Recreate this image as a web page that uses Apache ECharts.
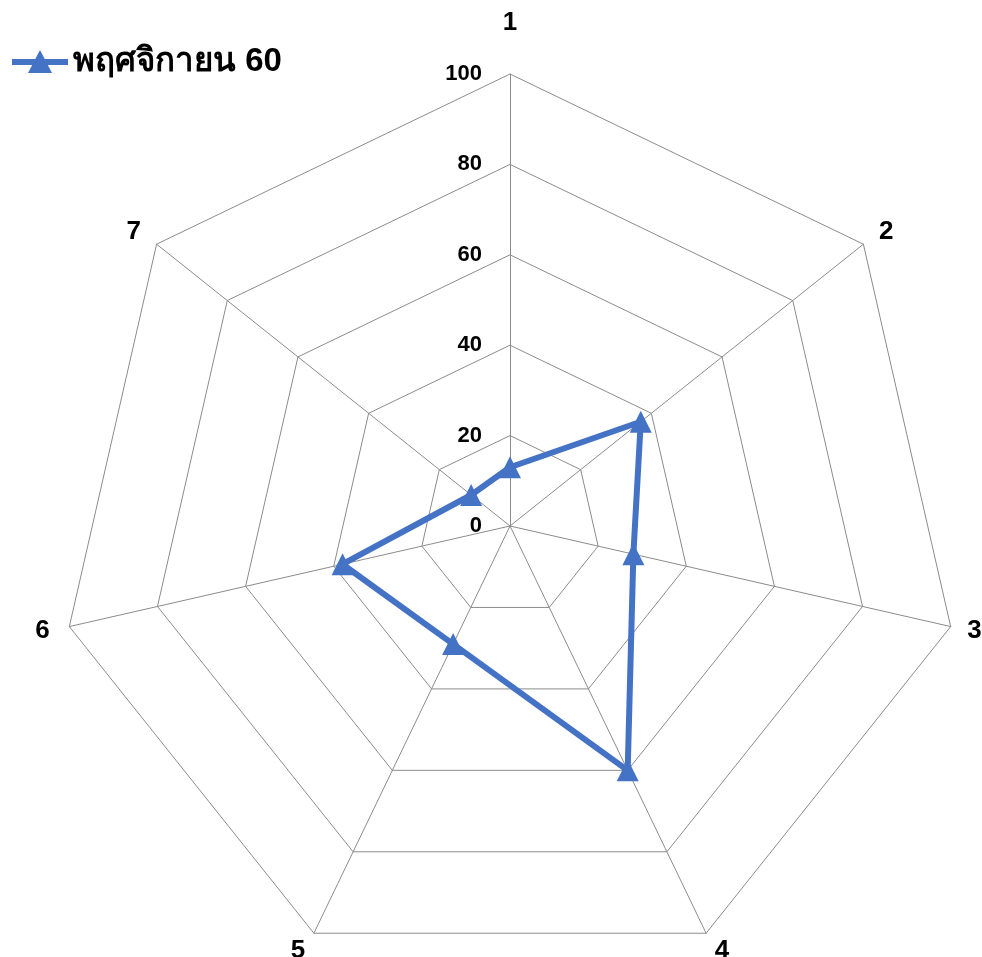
<!DOCTYPE html>
<html>
<head>
<meta charset="utf-8">
<script src="https://cdn.jsdelivr.net/npm/echarts@6/dist/echarts.min.js"></script>
<style>
html,body{margin:0;padding:0;background:#fff;}
#chart{width:982px;height:957px;}
</style>
</head>
<body>
<div id="chart"></div>
<script>
// Data (clockwise order, starting at top)
const categories = ['1', '2', '3', '4', '5', '6', '7'];
const seriesName = 'พฤศจิกายน 60';
const values = [13, 37, 28, 60, 29, 38, 11];
const axisMax = 100;
const tickInterval = 20;

const FONT = 'Arial, "Liberation Sans", sans-serif';
const BLUE = '#4472C4';
const GRID = '#8c8c8c';

// ECharts radar runs counter-clockwise; reorder so that it reads clockwise
const order = [0].concat(categories.map((c, i) => i).slice(1).reverse());
const indicators = order.map((idx, k) => {
  const ind = { name: categories[idx], min: 0, max: axisMax };
  if (k === 0) {
    ind.nameGap = 38;
    ind.axisLabel = {
      show: true, color: '#000', fontSize: 22, fontWeight: 'bold',
      fontFamily: FONT, margin: 28, showMinLabel: true, showMaxLabel: true
    };
  }
  if (categories[idx] === '3') ind.nameGap = 17;
  return ind;
});
const orderedValues = order.map(idx => values[idx]);

const chart = echarts.init(document.getElementById('chart'), null, { renderer: 'canvas' });
chart.setOption({
  backgroundColor: '#fff',
  animation: false,
  legend: {
    left: 12, top: 45, padding: 0,
    itemWidth: 56, itemHeight: 23,
    icon: 'path://M0,9 L56,9 L56,15 L0,15 Z M28,0 L40,23 L16,23 Z',
    textStyle: { fontSize: 33, fontWeight: 'bold', color: '#000', fontFamily: FONT },
    data: [seriesName]
  },
  radar: {
    center: [510, 526],
    radius: 452,
    shape: 'polygon',
    splitNumber: axisMax / tickInterval,
    indicator: indicators,
    nameGap: 20,
    axisName: { color: '#000', fontSize: 26, fontWeight: 'bold', fontFamily: FONT },
    axisLine: { show: true, lineStyle: { color: GRID, width: 1 } },
    splitLine: { show: true, lineStyle: { color: GRID, width: 1 } },
    splitArea: { show: false },
    axisTick: { show: false },
    axisLabel: { show: false }
  },
  series: [{
    type: 'radar',
    name: seriesName,
    symbol: 'triangle',
    symbolSize: 22,
    lineStyle: { color: BLUE, width: 6 },
    itemStyle: { color: BLUE, borderWidth: 0 },
    data: [{ name: seriesName, value: orderedValues }]
  }]
});
</script>
</body>
</html>
